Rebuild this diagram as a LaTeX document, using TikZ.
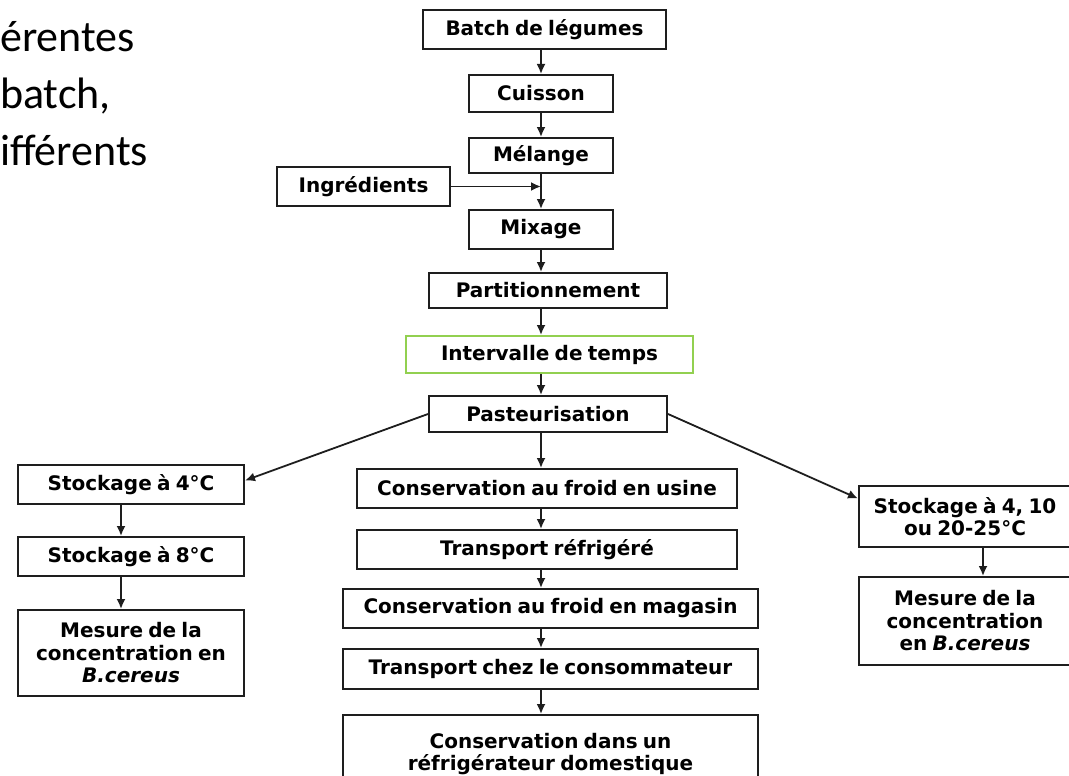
\documentclass[tikz,border=0pt]{standalone}
\usepackage{fontspec}
\newfontfamily\boxfont[WordSpace=0.75]{DejaVu Sans}
\newfontfamily\slidefont{Carlito}
\usetikzlibrary{arrows.meta}
\definecolor{edge}{RGB}{30,30,30}
\definecolor{grn}{RGB}{146,208,80}
\begin{document}
\begin{tikzpicture}[x=1pt,y=-1pt,
  box/.style={draw=edge, line width=2pt, fill=white, align=center, inner sep=0pt,
    font=\boxfont\bfseries\fontsize{20}{22.5}\selectfont, text=black},
  arr/.style={draw=edge, line width=1.8pt, -{Latex[length=10pt,width=9pt]}},
  slide/.style={anchor=base west, inner sep=0pt, font=\slidefont\fontsize{44}{56}\selectfont}]
\useasboundingbox (0,0) rectangle (1069,776);
\clip (0,0) rectangle (1069,776);

% slide text cut at the left
\node[slide] (l1) at (0,52) {érentes};
\node[slide] (l2) at (0,108) {batch,};
\node[slide] (l3) at (0,165) {ifférents};

% central chain
\node[box, minimum width=243pt, minimum height=39pt] (batch) at (544.5,29.5) {Batch de légumes};
\node[box, minimum width=144pt, minimum height=37pt] (cuis) at (541,93.5) {Cuisson};
\node[box, minimum width=144pt, minimum height=35pt] (mel) at (541,155.5) {Mélange};
\node[box, minimum width=173pt, minimum height=39pt] (ing) at (363.5,186.5) {Ingrédients};
\node[box, minimum width=144pt, minimum height=39pt] (mix) at (541,229.5) {Mixage};
\node[box, minimum width=238pt, minimum height=35pt] (part) at (548,290.5) {Partitionnement};
\node[box, draw=grn, minimum width=287pt, minimum height=37pt] (int) at (549.5,354.5) {Intervalle de temps};
\node[box, minimum width=238pt, minimum height=36pt] (pst) at (548,414) {Pasteurisation};

% left branch
\node[box, minimum width=226pt, minimum height=39pt] (s4) at (131,484.5) {Stockage à 4°C};
\node[box, minimum width=226pt, minimum height=39pt] (s8) at (131,556.5) {Stockage à 8°C};
\node[box, minimum width=226pt, minimum height=86pt] (mL) at (131,653) {Mesure de la\\concentration en\\\textit{B.cereus}};

% middle branch
\node[box, minimum width=380pt, minimum height=39pt] (c1) at (547,488.5) {Conservation au froid en usine};
\node[box, minimum width=380pt, minimum height=39pt] (t1) at (547,549.5) {Transport réfrigéré};
\node[box, minimum width=415pt, minimum height=39pt] (c2) at (550.5,608.5) {Conservation au froid en magasin};
\node[box, minimum width=415pt, minimum height=40pt] (t2) at (550.5,669) {Transport chez le consommateur};
\node[box, minimum width=415pt, minimum height=78pt] (c3) at (550.5,754) {Conservation dans un\\réfrigérateur domestique};

% right branch
\node[box, minimum width=212pt, minimum height=61pt] (sR) at (965,516.5) {Stockage à 4, 10\\ou 20-25°C};
\node[box, minimum width=212pt, minimum height=88pt] (mR) at (965,621) {Mesure de la\\concentration\\en \textit{B.cereus}};

\coordinate (ax) at (541,0);
\coordinate (lax) at (121,0);
\coordinate (rax) at (983,0);

\draw[arr] (batch.south -| ax) -- (cuis.north -| ax);
\draw[arr] (cuis.south -| ax) -- (mel.north -| ax);
\draw[arr] (mel.south -| ax) -- (mix.north -| ax);
\draw[arr] (ing.east) -- (ing.east -| ax);
\draw[arr] (mix.south -| ax) -- (part.north -| ax);
\draw[arr] (part.south -| ax) -- (int.north -| ax);
\draw[arr] (int.south -| ax) -- (pst.north -| ax);

\draw[arr] (pst.west) -- ([yshift=4pt]s4.east);
\draw[arr] (pst.east) -- ([yshift=18pt]sR.west);
\draw[arr] (pst.south -| ax) -- (c1.north -| ax);

\draw[arr] (s4.south -| lax) -- (s8.north -| lax);
\draw[arr] (s8.south -| lax) -- (mL.north -| lax);

\draw[arr] (c1.south -| ax) -- (t1.north -| ax);
\draw[arr] (t1.south -| ax) -- (c2.north -| ax);
\draw[arr] (c2.south -| ax) -- (t2.north -| ax);
\draw[arr] (t2.south -| ax) -- (c3.north -| ax);

\draw[arr] (sR.south -| rax) -- (mR.north -| rax);
\end{tikzpicture}
\end{document}
